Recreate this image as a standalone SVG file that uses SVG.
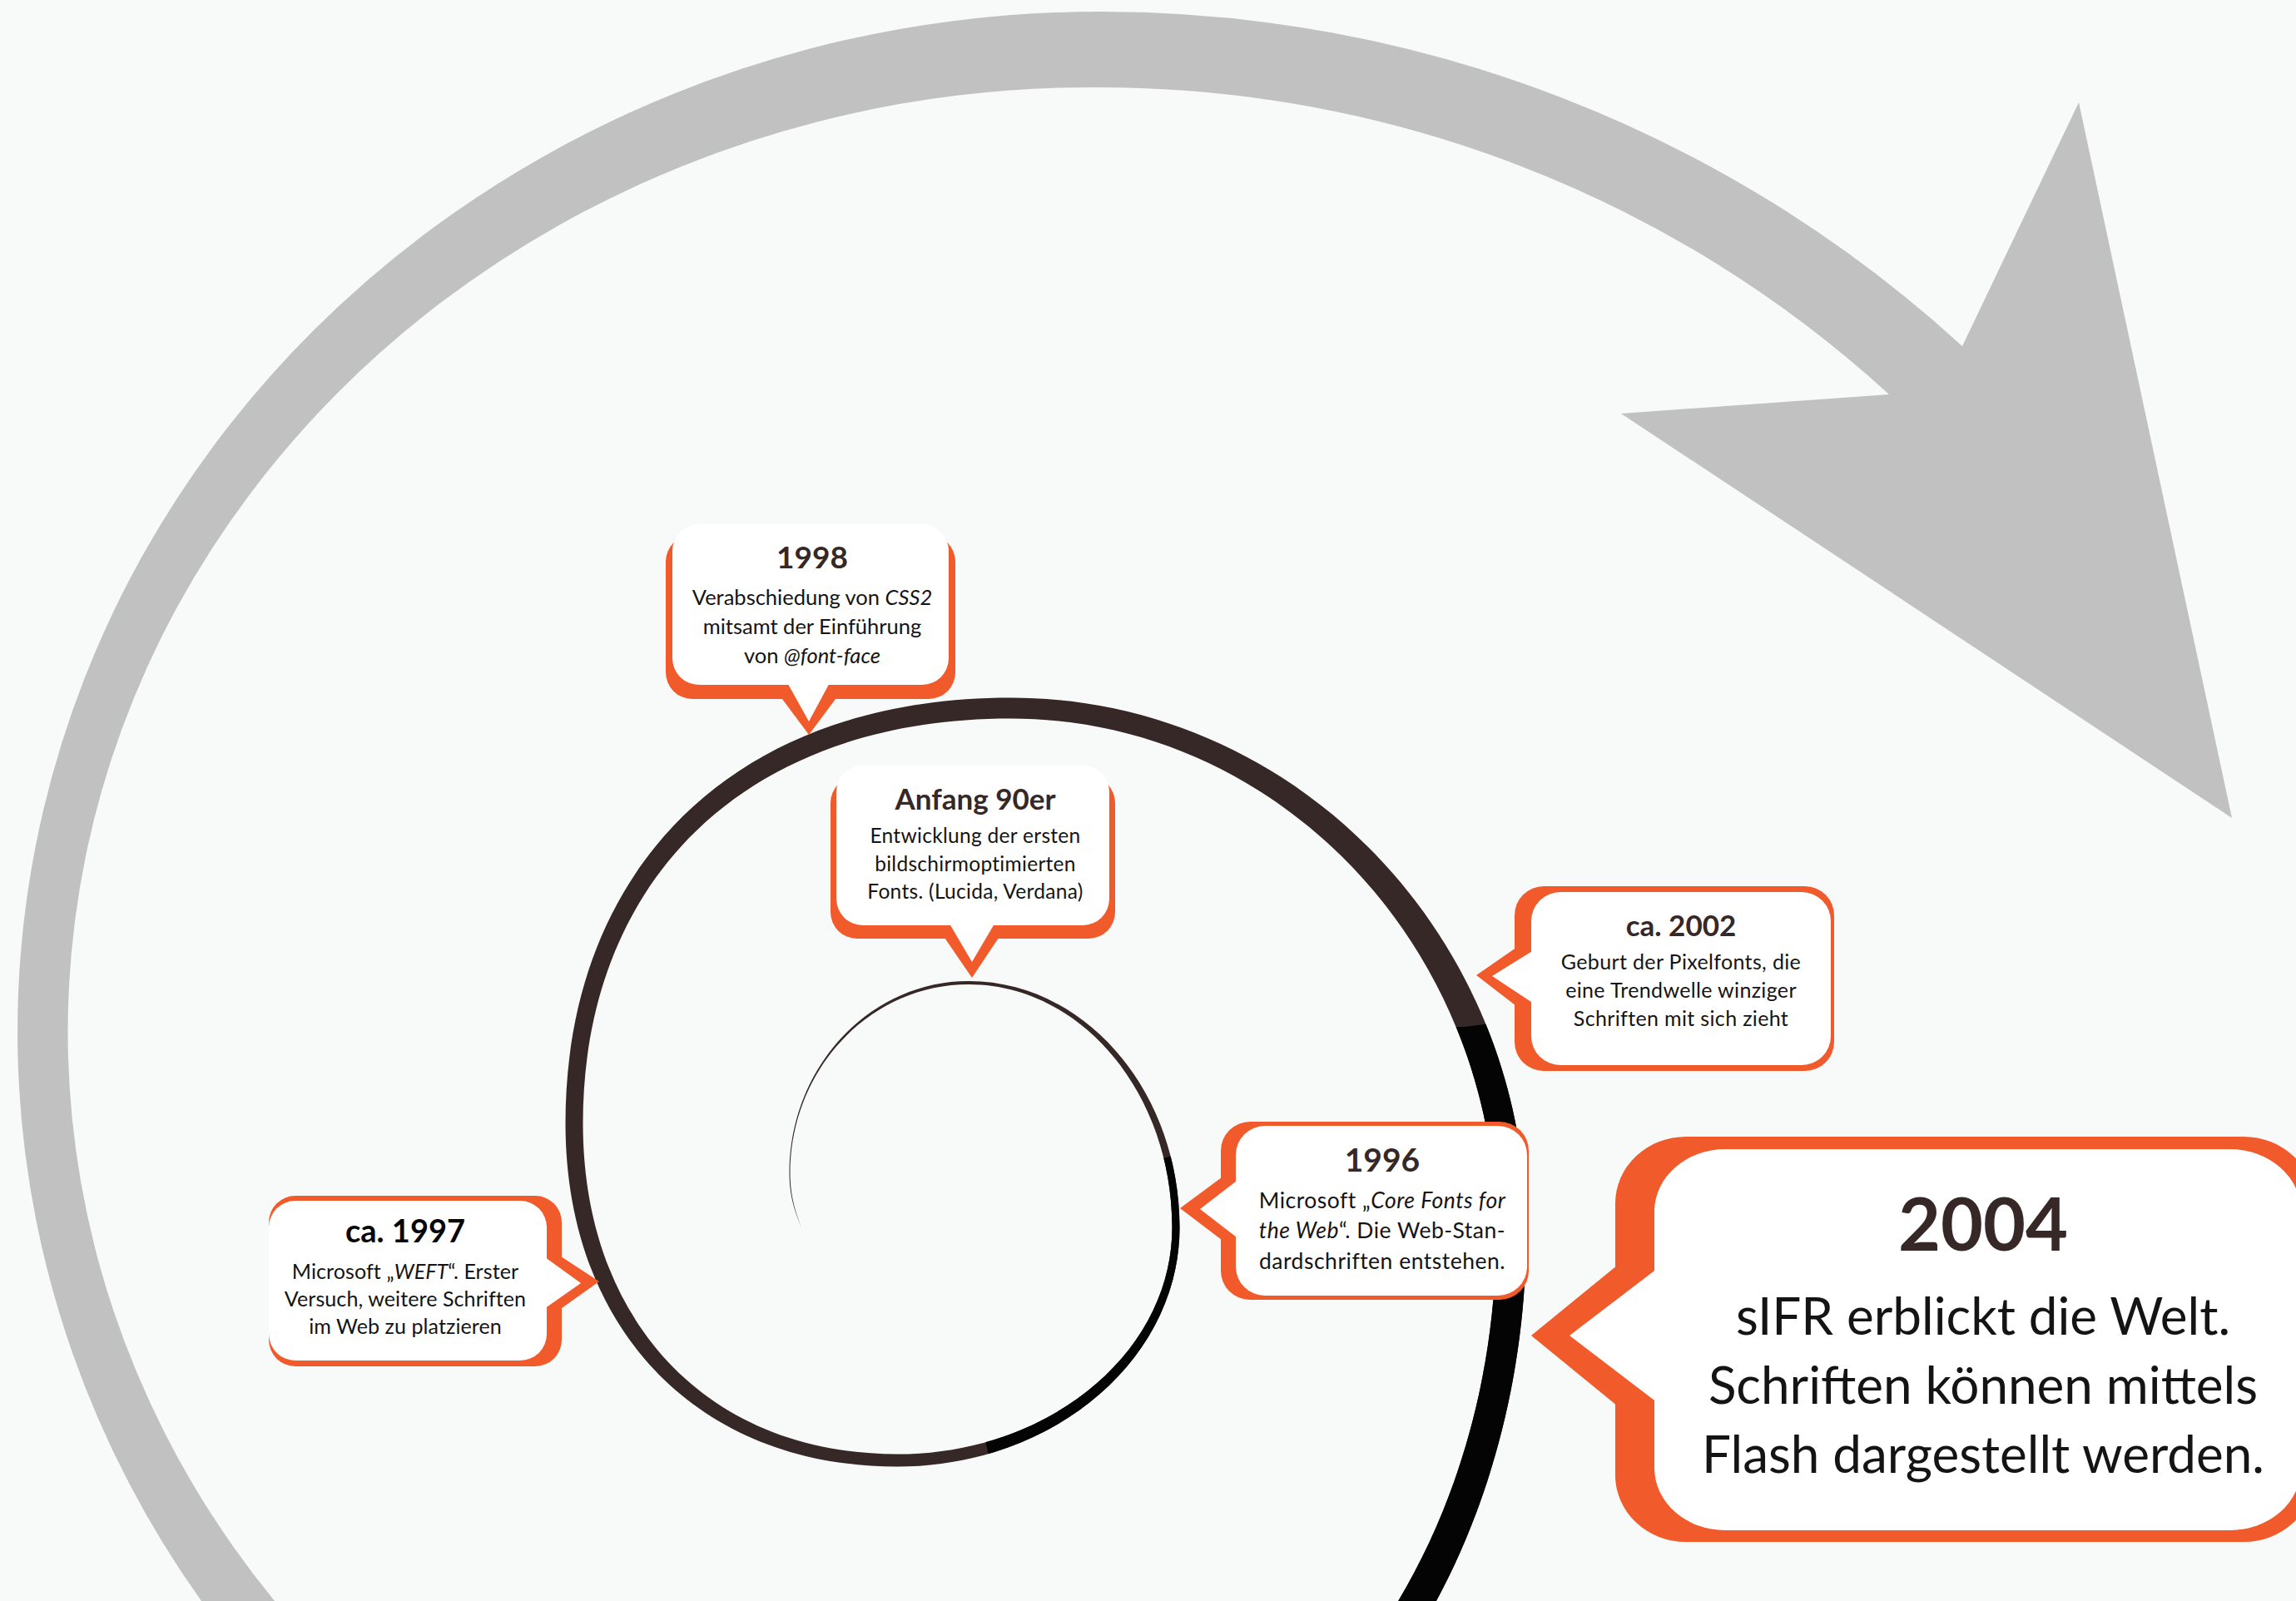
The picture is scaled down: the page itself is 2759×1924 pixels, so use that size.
<svg xmlns="http://www.w3.org/2000/svg" width="2759" height="1924" viewBox="0 0 2759 1924">
<defs>
<style>
.o{fill:#f15a2b}
.w{fill:#ffffff}
.h{font-family:Lato,"Liberation Sans",sans-serif;font-weight:700;fill:#352827;text-anchor:middle}
.b{font-family:Lato,"Liberation Sans",sans-serif;font-weight:400;fill:#141414;text-anchor:middle}
.i{font-style:italic}
</style>
<path id="spiral" d="M 963 1475 C 952 1450 948.5 1430 948.5 1410 C 948.5 1282.4 1045 1179 1164 1179 C 1304 1179 1417.5 1311.5 1417.5 1475 C 1417.5 1633.8 1265.5 1762.5 1078 1762.5 C 839 1762.5 679.5 1597.5 679.5 1350 C 679.5 1043.1 882.6 838.5 1214 838.5 C 1556.4 838.5 1834 1125.7 1834 1480 C 1834 1919 1550 2275 1200 2275 L 1200 2225 C 1530 2225 1798 1891.5 1798 1480 C 1798 1139.5 1536.5 863.5 1214 863.5 C 895.6 863.5 700.5 1058.1 700.5 1350 C 700.5 1588.5 851.5 1747.5 1078 1747.5 C 1260.5 1747.5 1408.5 1625.5 1408.5 1475 C 1408.5 1313.7 1299 1183 1164 1183 C 1045.5 1183 949.5 1284.6 949.5 1410 C 949.5 1430 953 1450 963 1475 Z"/>
<clipPath id="blk1"><polygon points="1130,1470 1540,1351 1600,1600 1450,1900 1215,1880"/></clipPath>
<clipPath id="blk2"><polygon points="1500,1233 1760,1234 1800,1229 1900,1225 1900,1924 1500,1924"/></clipPath>
</defs>
<rect x="0" y="0" width="2759" height="1924" fill="#f8faf9"/>
<g id="connectors">
<path id="arrow" fill="#c1c1c1" d="M 242 1924 A 1299 1226 0 0 1 1320 14 A 1532 1532 0 0 1 2358 416 L 2498 123 L 2682 983 L 1948 497 L 2270 474 A 1407 1407 0 0 0 1320 105 A 1230 1135 0 0 0 330 1924 Z"/>
<g id="timeline">
<use href="#spiral" fill="#352827"/>
<use href="#spiral" fill="#040404" clip-path="url(#blk1)"/>
<use href="#spiral" fill="#040404" clip-path="url(#blk2)"/>
</g>
</g>
<g id="node-1998">
<rect class="o" x="800" y="643" width="348" height="197" rx="32"/>
<polygon class="o" points="937,836 1007,836 972,883"/>
<rect class="w" x="808" y="630" width="332" height="193" rx="32"/>
<polygon class="w" points="943,815 1000,815 972,867"/>
<text class="h" x="976" y="683" font-size="37">1998</text>
<text class="b" x="976" y="727" font-size="25.5">Verabschiedung von <tspan class="i">CSS2</tspan></text>
<text class="b" x="976" y="762" font-size="25.5">mitsamt der Einführung</text>
<text class="b" x="976" y="797" font-size="25.5">von <tspan class="i">@font-face</tspan></text>
</g>
<g id="node-anfang90er">
<rect class="o" x="998" y="933" width="342" height="195" rx="32"/>
<polygon class="o" points="1133,1124 1202,1124 1168,1175"/>
<rect class="w" x="1005" y="920" width="328" height="192" rx="32"/>
<polygon class="w" points="1138,1105 1198,1105 1168,1156"/>
<text class="h" x="1172" y="973" font-size="35">Anfang 90er</text>
<g font-size="24.5" letter-spacing="0.3">
<text class="b" x="1172" y="1013">Entwicklung der ersten</text>
<text class="b" x="1172" y="1047">bildschirmoptimierten</text>
<text class="b" x="1172" y="1080">Fonts. (Lucida, Verdana)</text>
</g>
</g>
<g id="node-2002">
<rect class="o" x="1820" y="1065" width="384" height="222" rx="35"/>
<polygon class="o" points="1826,1136 1826,1212 1774,1172"/>
<rect class="w" x="1840" y="1072" width="360" height="208" rx="35"/>
<polygon class="w" points="1846,1140 1846,1208 1793,1173"/>
<text class="h" x="2020" y="1125" font-size="35">ca. 2002</text>
<g font-size="25" letter-spacing="0.35">
<text class="b" x="2020" y="1165">Geburt der Pixelfonts, die</text>
<text class="b" x="2020" y="1199">eine Trendwelle winziger</text>
<text class="b" x="2020" y="1233">Schriften mit sich zieht</text>
</g>
</g>
<g id="node-1997">
<rect class="o" x="323" y="1437" width="352" height="205" rx="32"/>
<polygon class="o" points="668,1506 668,1577 720,1540"/>
<rect class="w" x="323" y="1443" width="334" height="192" rx="32"/>
<polygon class="w" points="651,1508 651,1575 698,1542"/>
<text class="h" x="487" y="1493" font-size="38" style="fill:#050505">ca. 1997</text>
<g font-size="25" letter-spacing="0.1">
<text class="b" x="487" y="1537">Microsoft „<tspan class="i">WEFT</tspan>“. Erster</text>
<text class="b" x="487" y="1570">Versuch, weitere Schriften</text>
<text class="b" x="487" y="1603">im Web zu platzieren</text>
</g>
</g>
<g id="node-1996">
<rect class="o" x="1467" y="1348" width="370" height="214" rx="35"/>
<polygon class="o" points="1472,1412 1472,1493 1418,1452"/>
<rect class="w" x="1485" y="1353" width="350" height="204" rx="35"/>
<polygon class="w" points="1490,1416 1490,1490 1442,1453"/>
<text class="h" x="1661" y="1408" font-size="39">1996</text>
<g font-size="26.5" letter-spacing="0.5">
<text class="b" x="1661" y="1452">Microsoft „<tspan class="i">Core Fonts for</tspan></text>
<text class="b" x="1661" y="1488"><tspan class="i">the Web</tspan>“. Die Web-Stan-</text>
<text class="b" x="1661" y="1525">dardschriften entstehen.</text>
</g>
</g>
<g id="node-2004">
<rect class="o" x="1941" y="1366" width="840" height="487" rx="85" ry="80"/>
<polygon class="o" points="1960,1507 1960,1703 1840,1605"/>
<rect class="w" x="1988" y="1381" width="777" height="458" rx="85" ry="75"/>
<polygon class="w" points="1996,1521 1996,1689 1886,1605"/>
<text class="h" x="2383" y="1503" font-size="88">2004</text>
<text class="b" x="2383" y="1604" font-size="62">sIFR erblickt die Welt.</text>
<text class="b" x="2383" y="1687" font-size="62">Schriften können mittels</text>
<text class="b" x="2383" y="1770" font-size="62">Flash dargestellt werden.</text>
</g>
</svg>
